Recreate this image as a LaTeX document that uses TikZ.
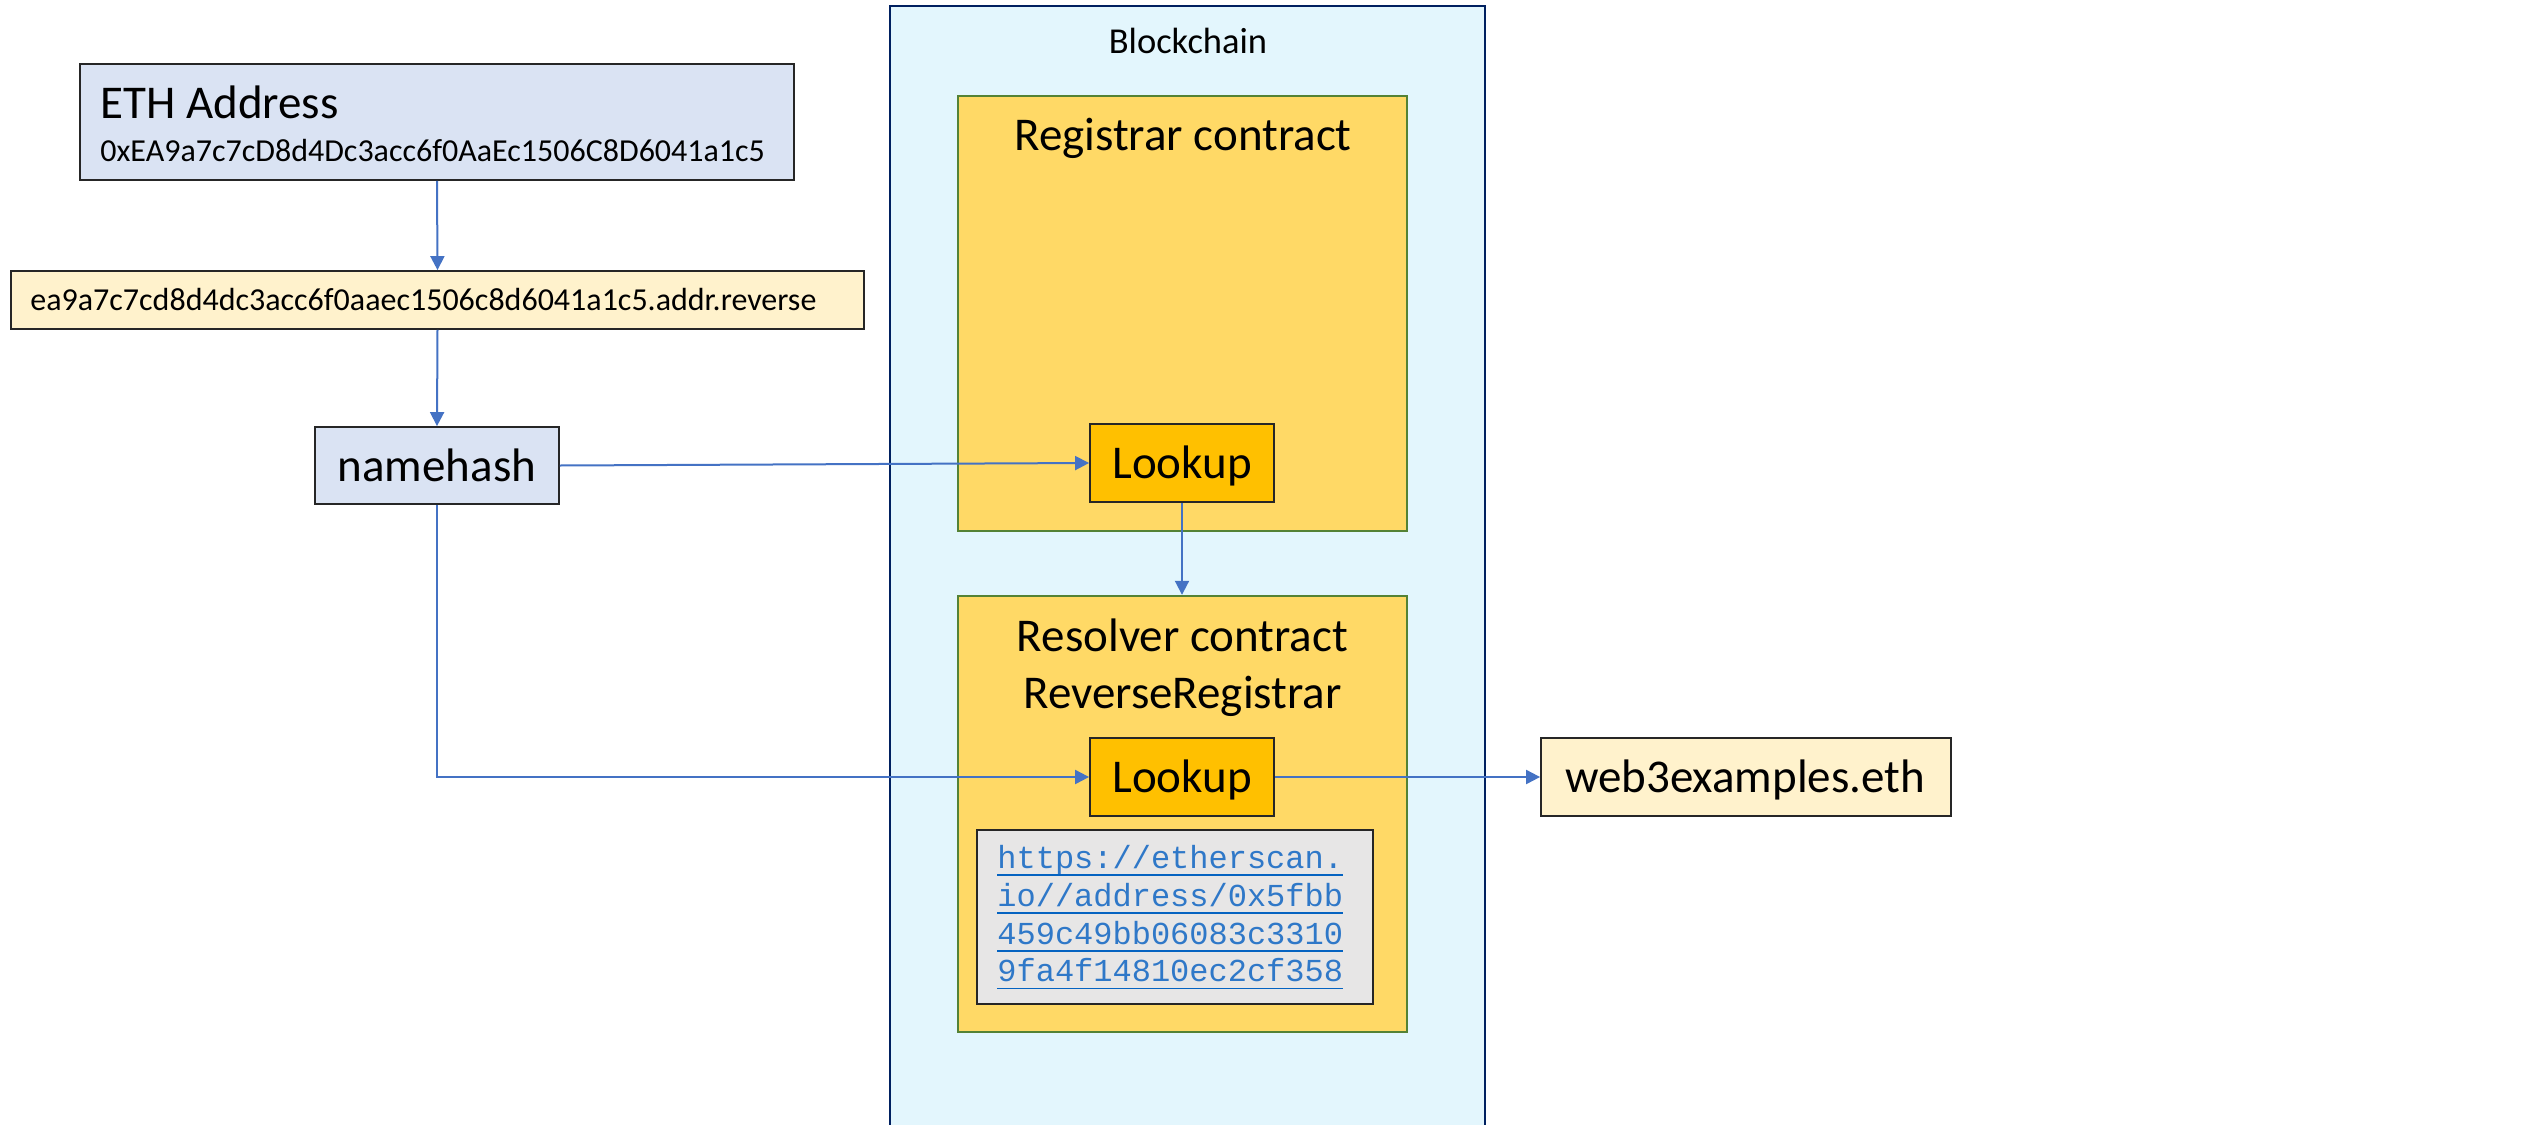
\documentclass[tikz,border=0pt]{standalone}
\usepackage{fontspec}
\setmainfont{Carlito}
\newfontfamily\linkfont{Liberation Mono}
\usetikzlibrary{arrows.meta}
\definecolor{ethfill}{HTML}{DAE3F3}
\definecolor{revfill}{HTML}{FFF2CC}
\definecolor{chainfill}{HTML}{E3F6FD}
\definecolor{chainline}{HTML}{002060}
\definecolor{contfill}{HTML}{FFD966}
\definecolor{contline}{HTML}{548235}
\definecolor{lookfill}{HTML}{FFC000}
\definecolor{grayfill}{HTML}{E7E6E6}
\definecolor{arrowcol}{HTML}{4472C4}
\definecolor{linkcol}{HTML}{0563C1}
\definecolor{linktextcol}{HTML}{2F78C8}
\begin{document}
\begin{tikzpicture}[x=0.5pt,y=-0.5pt,
  box/.style={rectangle, draw=black!85, line width=0.9pt, inner sep=0pt},
  contbox/.style={rectangle, draw=contline, fill=contfill, line width=1.2pt, inner sep=0pt},
  conn/.style={draw=arrowcol, line width=1pt, -{Triangle[length=7pt,width=7pt]}},
  txt/.style={inner sep=0pt, anchor=base},
  bigtxt/.style={txt, font=\fontsize{23.5}{28}\selectfont},
  smalltxt/.style={txt, font=\fontsize{16}{19}\selectfont},
  linktxt/.style={inner sep=0pt, anchor=base west, text=linktextcol, font=\linkfont\fontsize{16}{19}\selectfont},
  uline/.style={draw=linkcol, line width=0.75pt}]
\clip (0,0) rectangle (2524,1125);
\fill[white] (0,0) rectangle (2524,1125);

% Blockchain container
\node[rectangle, draw=chainline, fill=chainfill, line width=1pt, inner sep=0pt,
      minimum width=297.5pt, minimum height=567pt] (chain) at (1187.5,573) {};
\node[txt, font=\fontsize{18.25}{22}\selectfont] (chaint) at (1188,53) {Blockchain};

% Left column
\node[box, fill=ethfill, minimum width=357pt, minimum height=58pt] (eth) at (437,122) {};
\node[bigtxt, anchor=base west] (etht) at (100,118) {ETH Address};
\node[smalltxt, anchor=base west] (ethaddr) at (100,161) {0xEA9a7c7cD8d4Dc3acc6f0AaEc1506C8D6041a1c5};

\node[box, fill=revfill, minimum width=426.5pt, minimum height=29pt] (rev) at (437.5,300) {};
\node[smalltxt, anchor=base west] (revt) at (30,310) {ea9a7c7cd8d4dc3acc6f0aaec1506c8d6041a1c5.addr.reverse};

\node[box, fill=ethfill, minimum width=122pt, minimum height=38.5pt] (nh) at (437,465.5) {};
\node[bigtxt] (nht) at (437,481) {namehash};

% Registrar contract
\node[contbox, minimum width=224.5pt, minimum height=217.5pt] (reg) at (1182.5,313.5) {};
\node[bigtxt] (regt) at (1183,150) {Registrar contract};
\node[box, fill=lookfill, minimum width=92pt, minimum height=39pt] (lk1) at (1182,463) {};
\node[bigtxt] (lk1t) at (1182,478) {Lookup};

% Resolver contract
\node[contbox, minimum width=224.5pt, minimum height=218pt] (res) at (1182.5,814) {};
\node[bigtxt] (rest1) at (1182.5,651) {Resolver contract};
\node[bigtxt] (rest2) at (1182.5,708) {ReverseRegistrar};
\node[box, fill=lookfill, minimum width=92pt, minimum height=39pt] (lk2) at (1182,777) {};
\node[bigtxt] (lk2t) at (1182,792) {Lookup};

\node[box, fill=grayfill, minimum width=197.75pt, minimum height=87.25pt] (gray) at (1175,917) {};
\node[linktxt] (l1) at (997,868) {https://etherscan.};
\node[linktxt] (l2) at (997,906) {io//address/0x5fbb};
\node[linktxt] (l3) at (997,944) {459c49bb06083c3310};
\node[linktxt] (l4) at (997,981.5) {9fa4f14810ec2cf358};
\foreach \l in {l1,l2,l3,l4}{
  \draw[uline] ([yshift=-3.5pt]\l.base west) -- ([yshift=-3.5pt]\l.base east);
}

% Result
\node[box, fill=revfill, minimum width=205pt, minimum height=39pt] (web) at (1746,777) {};
\node[bigtxt] (webt) at (1745,792) {web3examples.eth};

% Connectors
\draw[conn] (eth.south) -- (rev.north);
\draw[conn] (rev.south) -- (nh.north);
\draw[conn] (nh.east) -- (lk1.west);
\draw[conn] (lk1.south) -- (lk1.south |- res.north);
\draw[conn] (nh.south) |- (lk2.west);
\draw[conn] (lk2.east) -- (web.west);
\end{tikzpicture}
\end{document}
